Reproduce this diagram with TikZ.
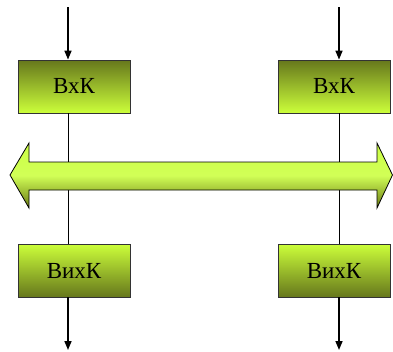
\documentclass[tikz,border=0pt]{standalone}
\usepackage{fontspec}
\setmainfont{Liberation Serif}
\usetikzlibrary{arrows.meta,shadows}
\definecolor{boxdark}{HTML}{66771C}
\definecolor{boxlight}{HTML}{CCFF3A}
\definecolor{arrlight}{HTML}{CCFF44}
\definecolor{arrdark}{HTML}{6A7A12}
\tikzset{
  topbox/.style={draw=black!80, line width=0.8pt, minimum width=112pt, minimum height=53pt,
    top color=boxdark, bottom color=boxlight, inner sep=0pt,
    font=\fontsize{23}{26}\selectfont},
  botbox/.style={topbox, top color=boxlight, bottom color=boxdark},
  flow/.style={line width=1.6pt, -{Triangle[length=9pt,width=7pt]}},
  thin/.style={line width=0.7pt}
}
\begin{document}
\begin{tikzpicture}[x=1pt,y=-1pt]
\useasboundingbox (0,0) rectangle (393,351);
\node[topbox] (in1) at (74,86.5) {ВхК};
\node[topbox] (in2) at (334,86.5) {ВхК};
\node[botbox] (out1) at (74,270.5) {ВихК};
\node[botbox] (out2) at (334,270.5) {ВихК};
\coordinate (s1) at (68,7);
\coordinate (s2) at (339,7);
\coordinate (e1) at (68,350);
\coordinate (e2) at (339,350);
\draw[thin] (in1.south -| s1) -- (out1.north -| s1);
\draw[thin] (in2.south -| s2) -- (out2.north -| s2);
\draw[flow] (s1) -- (in1.north -| s1);
\draw[flow] (s2) -- (in2.north -| s2);
\draw[flow] (out1.south -| e1) -- (e1);
\draw[flow] (out2.south -| e2) -- (e2);
\path[draw=black, line width=0.8pt, top color=arrlight, bottom color=arrdark, middle color=arrlight!90!white]
  (10,175) -- (29,143) -- (29,162) -- (377,162) -- (377,143) -- (392.5,175)
  -- (377,208) -- (377,190) -- (29,190) -- (29,208) -- cycle;
\end{tikzpicture}
\end{document}
